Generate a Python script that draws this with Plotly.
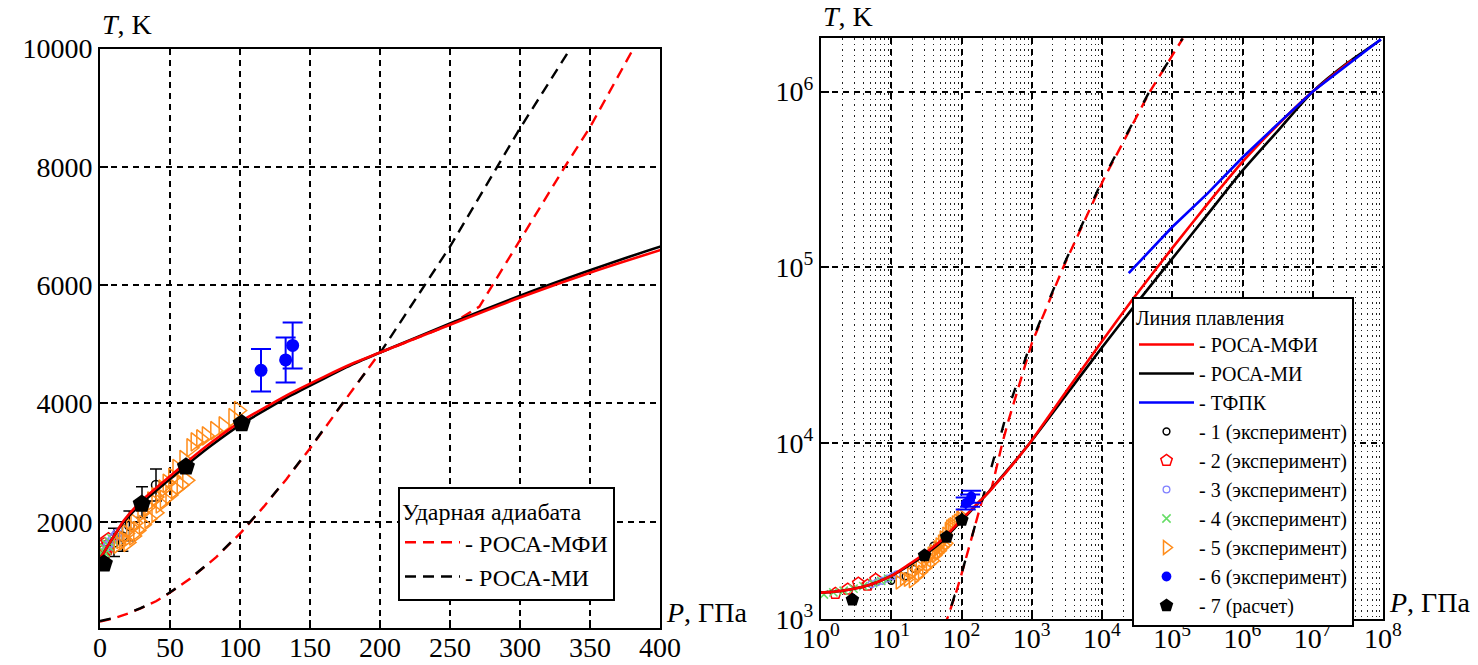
import plotly.graph_objects as go

FONT = "Liberation Serif, serif"

# ---- Melting line (P in GPa, T in K) ----
melt_mfi_p = [0.5, 1, 2, 5, 10, 17, 30, 50, 62, 79, 101, 120, 136, 160, 180, 200, 250, 300,
              350, 400, 600, 933, 3162, 10000, 27540, 1.0e5, 3.162e5, 1.0e6, 3.162e6, 1.0e7,
              3.63e7]
melt_mfi_t = [1400, 1415, 1450, 1570, 1760, 2020, 2360, 2770, 3010, 3330, 3700, 3960, 4170,
              4450, 4670, 4860, 5330, 5790, 6210, 6590, 8020, 10000, 19950, 38020, 66070,
              128800, 229100, 398100, 645700, 1000000, 1514000]
melt_mi_p = [0.5, 1, 2, 5, 10, 17, 30, 50, 62, 79, 101, 120, 136, 160, 180, 200, 250, 300,
             350, 400, 600, 933, 3162, 10000, 27540, 1.0e5, 3.162e5, 1.0e6, 3.162e6, 1.0e7,
             3.162e7, 9.33e7]
melt_mi_t = [1400, 1415, 1450, 1570, 1760, 1995, 2320, 2720, 2960, 3280, 3650, 3915, 4130,
             4420, 4655, 4860, 5350, 5820, 6250, 6650, 8050, 10000, 19050, 35080, 58880,
             112200, 199500, 354800, 595700, 1000000, 1462000, 1972000]
tfpk_p = [24000, 1.0e5, 3.162e5, 1.0e6, 3.162e6, 1.0e7, 9.33e7]
tfpk_t = [92700, 169800, 263000, 421700, 653100, 1000000, 1986000]

# ---- Shock adiabat ----
hug_mi_p = [0, 10, 20, 28.6, 40, 49, 64, 83, 101, 117, 133, 152, 175, 200, 250, 300, 336,
            440, 933, 2750, 10200, 47300, 91000, 140000]
hug_mi_t = [320, 375, 451, 534, 660, 790, 1032, 1406, 1830, 2260, 2720, 3310, 4060, 4850,
            6650, 8650, 10000, 14800, 35500, 100000, 316000, 1000000, 1510000, 2010000]
hug_mfi_p = [0, 10, 20, 28.6, 40, 49, 64, 83, 101, 117, 133, 152, 175, 200, 230, 250, 271,
             300, 332, 350, 381, 470, 1000, 2800, 10500, 48000, 92000, 142000]
hug_mfi_t = [310, 370, 448, 530, 655, 785, 1030, 1400, 1825, 2255, 2715, 3300, 4055, 4860,
             5140, 5330, 5636, 6763, 8000, 8668, 10000, 13600, 37000, 100000, 316000,
             1000000, 1510000, 2010000]

# ---- Experiments and calculation ----
exp1_p = [10, 16, 21, 30, 40]
exp1_t = [1650, 1750, 1930, 2330, 2620]
exp1_err = [240, 250, 250, 260, 270]
exp2_p = [1.6, 2.4, 3.4, 4.6, 6.0]
exp2_t = [1400, 1480, 1600, 1560, 1680]
exp3_p = [5.2, 6.3, 7.5, 8.8, 10.5, 12]
exp3_t = [1580, 1620, 1650, 1700, 1750, 1800]
exp4_p = [1.1, 1.5, 2.1, 2.9, 4.0, 5.5, 7.2, 9.0]
exp4_t = [1380, 1420, 1450, 1490, 1540, 1600, 1650, 1700]
exp5_p = [13, 15, 17, 19, 20, 22, 24, 25, 27, 30, 31, 34, 35, 37, 40, 40, 43, 45, 46, 48,
          50, 52, 54, 55, 58, 60, 62, 65, 68, 72, 76, 82, 88, 95, 99]
exp5_t = [1620, 1700, 1680, 1800, 1650, 1900, 1760, 1980, 1850, 2150, 1950, 2250, 2050, 2350,
          2150, 2420, 2300, 2550, 2380, 2650, 2450, 2750, 2550, 2900, 2620, 3050, 2700, 3250,
          3350, 3400, 3450, 3540, 3620, 3760, 3880]
exp6_p = [115, 132.6, 137.6]
exp6_t = [4560, 4735, 4980]
exp6_err = [360, 380, 390]
calc7_p = [2.8, 29.8, 61.4, 101.2]
calc7_t = [1290, 2300, 2930, 3660]

lin_ticks = [0, 50, 100, 150, 200, 250, 300, 350, 400]
t_ticks = [2000, 4000, 6000, 8000, 10000]
t_text = ["2000", "4000", "6000", "8000", "10000"]
logp_vals = [1, 10, 100, 1e3, 1e4, 1e5, 1e6, 1e7, 1e8]
logp_text = ["10<sup>%d</sup>" % k for k in range(9)]
logt_vals = [1e3, 1e4, 1e5, 1e6]
logt_text = ["10<sup>%d</sup>" % k for k in range(3, 7)]

fig = go.Figure()

DASH = "11px,7px"        # regular dash
DASH_SPARSE = "11px,25px"  # every other dash: black over red gives alternating colours
split = hug_mi_p.index(200)  # both adiabats coincide below this point

for xa, ya, right in [("x", "y", False), ("x2", "y2", True)]:
    sc = 0.75 if right else 1.0
    # shock adiabats (dashed)
    fig.add_trace(go.Scatter(x=hug_mfi_p, y=hug_mfi_t, xaxis=xa, yaxis=ya, mode="lines",
                             line=dict(color="red", width=2.4, dash=DASH),
                             name="- РОСА-МФИ", legend="legend2", legendrank=1,
                             showlegend=not right))
    if right:
        fig.add_trace(go.Scatter(x=hug_mi_p, y=hug_mi_t, xaxis=xa, yaxis=ya, mode="lines",
                                 line=dict(color="black", width=2.4, dash=DASH_SPARSE),
                                 showlegend=False, hoverinfo="skip"))
    else:
        fig.add_trace(go.Scatter(x=hug_mi_p[:split + 1], y=hug_mi_t[:split + 1],
                                 xaxis=xa, yaxis=ya, mode="lines",
                                 line=dict(color="black", width=2.4, dash=DASH_SPARSE),
                                 showlegend=False, hoverinfo="skip"))
        fig.add_trace(go.Scatter(x=hug_mi_p[split:], y=hug_mi_t[split:],
                                 xaxis=xa, yaxis=ya, mode="lines",
                                 line=dict(color="black", width=2.4, dash=DASH),
                                 name="- РОСА-МИ", legend="legend2", legendrank=2,
                                 showlegend=True))
    # experiments 1-5
    fig.add_trace(go.Scatter(x=exp1_p, y=exp1_t, xaxis=xa, yaxis=ya, mode="markers",
                             marker=dict(symbol="circle-open", color="black", size=9 * sc,
                                         line=dict(width=1.5)),
                             error_y=dict(type="data", array=exp1_err, color="black",
                                          thickness=1.5, width=6, visible=not right),
                             name="- 1 (эксперимент)", legendrank=4, showlegend=right))
    fig.add_trace(go.Scatter(x=exp2_p, y=exp2_t, xaxis=xa, yaxis=ya, mode="markers",
                             marker=dict(symbol="pentagon-open", color="red", size=16 * sc,
                                         line=dict(width=1.5)),
                             name="- 2 (эксперимент)", legendrank=5, showlegend=right))
    fig.add_trace(go.Scatter(x=exp3_p, y=exp3_t, xaxis=xa, yaxis=ya, mode="markers",
                             marker=dict(symbol="circle-open", color="#7f7fff", size=9 * sc,
                                         line=dict(width=1.3)),
                             name="- 3 (эксперимент)", legendrank=6, showlegend=right))
    fig.add_trace(go.Scatter(x=exp4_p, y=exp4_t, xaxis=xa, yaxis=ya, mode="markers",
                             marker=dict(symbol="x-thin-open", color="#66dd66", size=11 * sc,
                                         line=dict(width=1.5, color="#66dd66")),
                             name="- 4 (эксперимент)", legendrank=7, showlegend=right))
    fig.add_trace(go.Scatter(x=exp5_p, y=exp5_t, xaxis=xa, yaxis=ya, mode="markers",
                             marker=dict(symbol="triangle-right-open", color="#ff8c1a",
                                         size=16 * sc, line=dict(width=1.5)),
                             name="- 5 (эксперимент)", legendrank=8, showlegend=right))
    # melting lines (solid)
    fig.add_trace(go.Scatter(x=melt_mi_p, y=melt_mi_t, xaxis=xa, yaxis=ya, mode="lines",
                             line=dict(color="black", width=2.6, shape="spline",
                                       smoothing=0.6),
                             name="- РОСА-МИ", legendrank=2, showlegend=right))
    fig.add_trace(go.Scatter(x=melt_mfi_p, y=melt_mfi_t, xaxis=xa, yaxis=ya, mode="lines",
                             line=dict(color="red", width=2.6, shape="spline",
                                       smoothing=0.6),
                             name="- РОСА-МФИ", legendrank=1, showlegend=right))
    fig.add_trace(go.Scatter(x=tfpk_p, y=tfpk_t, xaxis=xa, yaxis=ya, mode="lines",
                             line=dict(color="blue", width=2.6),
                             name="- ТФПК", legendrank=3, showlegend=right))
    # experiment 6 and calculation 7
    fig.add_trace(go.Scatter(x=exp6_p, y=exp6_t, xaxis=xa, yaxis=ya, mode="markers",
                             marker=dict(symbol="circle", color="blue", size=13 * sc),
                             error_y=dict(type="data", array=exp6_err, color="blue",
                                          thickness=2, width=10),
                             name="- 6 (эксперимент)", legendrank=9, showlegend=right))
    fig.add_trace(go.Scatter(x=calc7_p, y=calc7_t, xaxis=xa, yaxis=ya, mode="markers",
                             marker=dict(symbol="pentagon", color="black", size=19 * sc),
                             name="- 7 (расчет)", legendrank=10, showlegend=right))

W, H = 1478, 665
axis_common = dict(showline=True, linecolor="black", linewidth=2, mirror=True,
                   ticks="inside", ticklen=8, tickwidth=1.5, tickcolor="black",
                   tickfont=dict(family=FONT, size=28, color="black"),
                   showgrid=True, gridcolor="black", gridwidth=1.5, griddash="6px,5px",
                   zeroline=False, automargin=False)

fig.update_layout(
    width=W, height=H,
    margin=dict(l=0, r=0, t=0, b=0, autoexpand=False),
    paper_bgcolor="white", plot_bgcolor="white",
    font=dict(family=FONT, color="black"),
    xaxis=dict(domain=[100 / W, 660 / W], range=[0, 400], tickvals=lin_ticks,
               anchor="y", ticklabelstandoff=-7, **axis_common),
    yaxis=dict(domain=[(H - 628.2) / H, (H - 48.5) / H], range=[200, 10000],
               tickvals=t_ticks, ticktext=t_text, anchor="x", **axis_common),
    xaxis2=dict(domain=[821 / W, 1383 / W], type="log", range=[0, 8],
                tickvals=logp_vals, ticktext=logp_text, anchor="y2", ticklabelstandoff=-7,
                minor=dict(dtick="D1", showgrid=True, gridcolor="#222", gridwidth=1.3,
                           griddash="1.5px,4px", ticks=""),
                **axis_common),
    yaxis2=dict(domain=[(H - 619.1) / H, (H - 38.3) / H], type="log", range=[3, 6.303],
                tickvals=logt_vals, ticktext=logt_text, anchor="x2", **axis_common),
    legend=dict(title=dict(text="Линия плавления", font=dict(family=FONT, size=20)),
                x=1132 / W, y=1 - 297 / H, xanchor="left", yanchor="top",
                bgcolor="white", bordercolor="black", borderwidth=2, itemwidth=55,
                font=dict(family=FONT, size=20, color="black"), tracegroupgap=0),
    legend2=dict(title=dict(text="Ударная адиабата", font=dict(family=FONT, size=24)),
                 x=398 / W, y=1 - 487 / H, xanchor="left", yanchor="top",
                 bgcolor="white", bordercolor="black", borderwidth=2, itemwidth=55,
                 font=dict(family=FONT, size=24, color="black"), tracegroupgap=0),
    annotations=[
        dict(text="<i>T</i>, K", x=100 / W, y=1 - 42 / H, xref="paper", yref="paper",
             xanchor="left", yanchor="bottom", showarrow=False,
             font=dict(family=FONT, size=28)),
        dict(text="<i>P</i>, ГПа", x=664 / W, y=1 - 630 / H, xref="paper", yref="paper",
             xanchor="left", yanchor="bottom", showarrow=False,
             font=dict(family=FONT, size=28)),
        dict(text="<i>T</i>, K", x=821 / W, y=1 - 34 / H, xref="paper", yref="paper",
             xanchor="left", yanchor="bottom", showarrow=False,
             font=dict(family=FONT, size=28)),
        dict(text="<i>P</i>, ГПа", x=1387 / W, y=1 - 620 / H, xref="paper", yref="paper",
             xanchor="left", yanchor="bottom", showarrow=False,
             font=dict(family=FONT, size=28)),
    ],
)

fig.write_html("out.html")
